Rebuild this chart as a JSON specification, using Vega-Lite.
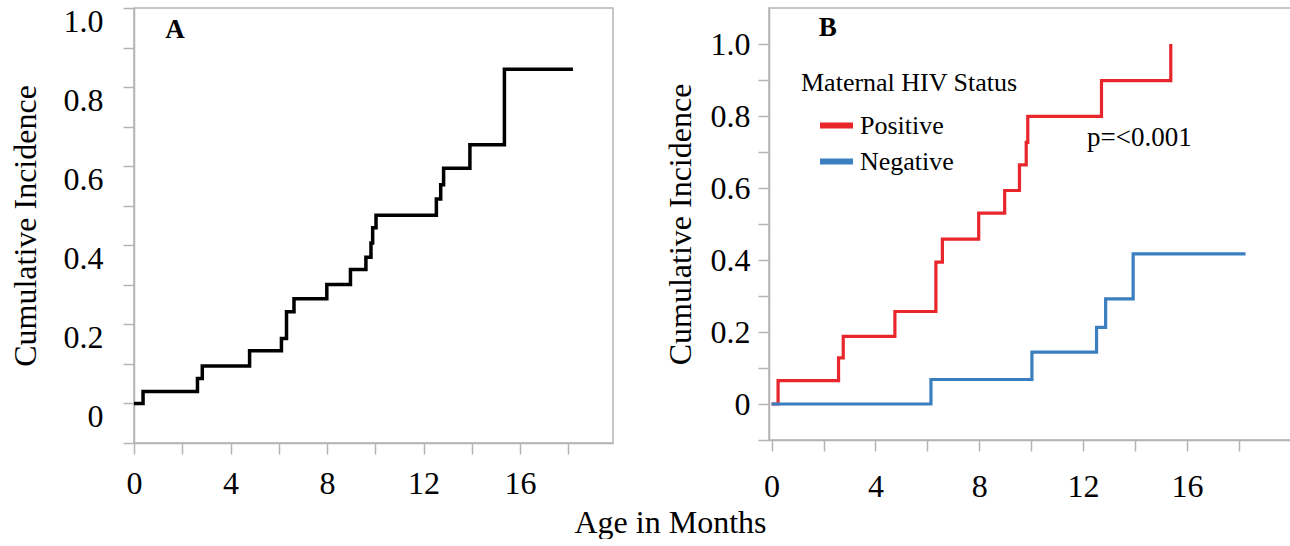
{
  "$schema": "https://vega.github.io/schema/vega-lite/v6.json",
  "padding": {"left": 8, "top": 4, "right": 0, "bottom": 0},
  "background": "white",
  "spacing": 49,
  "title": {"text": "Age in Months", "orient": "bottom", "anchor": "middle", "font": "Liberation Serif", "fontSize": 32, "fontWeight": "normal", "color": "black", "offset": 5, "dx": 20},
  "config": {
    "view": {"stroke": "#b4b4b4", "strokeWidth": 1.5},
    "axis": {"grid": false, "labelOverlap": false, "labelFlush": false, "domainColor": "#b4b4b4", "domainWidth": 1.5, "tickColor": "#b4b4b4", "tickWidth": 1.5, "tickSize": 11, "labelFont": "Liberation Serif", "labelFontSize": 32, "labelColor": "black", "titleFont": "Liberation Serif", "titleFontSize": 32, "titleFontWeight": "normal", "titleColor": "black"},
    "legend": {"titleFont": "Liberation Serif", "labelFont": "Liberation Serif"}
  },
  "datasets": {
    "a": [
      {"month": 0, "ci": 0}, {"month": 0.375, "ci": 0.030}, {"month": 2.63, "ci": 0.063}, {"month": 2.83, "ci": 0.095},
      {"month": 4.79, "ci": 0.133}, {"month": 6.11, "ci": 0.164}, {"month": 6.32, "ci": 0.232}, {"month": 6.63, "ci": 0.265},
      {"month": 7.99, "ci": 0.301}, {"month": 8.97, "ci": 0.339}, {"month": 9.61, "ci": 0.370}, {"month": 9.82, "ci": 0.406},
      {"month": 9.89, "ci": 0.444}, {"month": 10.03, "ci": 0.476}, {"month": 12.53, "ci": 0.517}, {"month": 12.71, "ci": 0.553},
      {"month": 12.83, "ci": 0.595}, {"month": 13.92, "ci": 0.654}, {"month": 15.35, "ci": 0.845}, {"month": 18.19, "ci": 0.845}
    ],
    "b": [
      {"status": "Positive", "month": 0, "ci": 0}, {"status": "Positive", "month": 0.25, "ci": 0.065}, {"status": "Positive", "month": 2.58, "ci": 0.128},
      {"status": "Positive", "month": 2.76, "ci": 0.188}, {"status": "Positive", "month": 4.75, "ci": 0.257}, {"status": "Positive", "month": 6.33, "ci": 0.394},
      {"status": "Positive", "month": 6.58, "ci": 0.458}, {"status": "Positive", "month": 7.98, "ci": 0.530}, {"status": "Positive", "month": 8.98, "ci": 0.593},
      {"status": "Positive", "month": 9.55, "ci": 0.664}, {"status": "Positive", "month": 9.81, "ci": 0.727}, {"status": "Positive", "month": 9.87, "ci": 0.799},
      {"status": "Positive", "month": 12.71, "ci": 0.898}, {"status": "Positive", "month": 15.38, "ci": 1.0},
      {"status": "Negative", "month": 0, "ci": 0}, {"status": "Negative", "month": 6.14, "ci": 0.068}, {"status": "Negative", "month": 10.03, "ci": 0.144},
      {"status": "Negative", "month": 12.52, "ci": 0.213}, {"status": "Negative", "month": 12.87, "ci": 0.292}, {"status": "Negative", "month": 13.93, "ci": 0.417},
      {"status": "Negative", "month": 18.26, "ci": 0.417}
    ]
  },
  "hconcat": [
    {
      "width": 479, "height": 435,
      "layer": [
        {
          "data": {"name": "a"},
          "mark": {"type": "line", "interpolate": "step-after", "color": "black", "strokeWidth": 3.5},
          "encoding": {
            "x": {"field": "month", "type": "quantitative", "scale": {"domain": [0, 19.85], "nice": false, "zero": false},
              "axis": {"title": null, "values": [0, 2, 4, 6, 8, 10, 12, 14, 16, 18], "labelExpr": "datum.value % 4 == 0 ? datum.label : ''", "labelPadding": 14, "labelFont": "Liberation Serif"}},
            "y": {"field": "ci", "type": "quantitative", "scale": {"domain": [-0.1, 1.0], "nice": false, "zero": false},
              "axis": {"title": "Cumulative Incidence", "values": [-0.1, 0, 0.1, 0.2, 0.3, 0.4, 0.5, 0.6, 0.7, 0.8, 0.9, 1.0],
                "labelExpr": "(datum.value * 10) % 2 < 0.5 && datum.value > -0.05 ? (datum.value == 0 ? '0' : format(datum.value, '.1f')) : ''",
                "labelPadding": 20, "labelOffset": 13, "titlePadding": 21, "labelFont": "Liberation Serif"}}
          }
        },
        {
          "data": {"values": [{"month": 1.7, "ci": 0.945, "label": "A"}]},
          "mark": {"type": "text", "font": "Liberation Serif", "fontSize": 27, "fontWeight": "bold", "color": "black", "baseline": "middle", "align": "center"},
          "encoding": {
            "x": {"field": "month", "type": "quantitative", "scale": {"domain": [0, 19.85], "nice": false, "zero": false},
              "axis": {"title": null, "values": [0, 2, 4, 6, 8, 10, 12, 14, 16, 18], "labelExpr": "datum.value % 4 == 0 ? datum.label : ''", "labelPadding": 14, "labelFont": "Liberation Serif"}},
            "y": {"field": "ci", "type": "quantitative", "scale": {"domain": [-0.1, 1.0], "nice": false, "zero": false},
              "axis": {"title": "Cumulative Incidence", "values": [-0.1, 0, 0.1, 0.2, 0.3, 0.4, 0.5, 0.6, 0.7, 0.8, 0.9, 1.0],
                "labelExpr": "(datum.value * 10) % 2 < 0.5 && datum.value > -0.05 ? (datum.value == 0 ? '0' : format(datum.value, '.1f')) : ''",
                "labelPadding": 20, "labelOffset": 13, "titlePadding": 21, "labelFont": "Liberation Serif"}},
            "text": {"field": "label"}
          }
        }
      ]
    },
    {
      "width": 523, "height": 432,
      "layer": [
        {
          "data": {"name": "b"},
          "mark": {"type": "line", "interpolate": "step-after", "strokeWidth": 3.2},
          "encoding": {
            "x": {"field": "month", "type": "quantitative", "scale": {"domain": [-0.1, 20.05], "nice": false, "zero": false},
              "axis": {"title": null, "values": [0, 2, 4, 6, 8, 10, 12, 14, 16, 18], "labelExpr": "datum.value % 4 == 0 ? datum.label : ''", "labelPadding": 20, "labelFont": "Liberation Serif"}},
            "y": {"field": "ci", "type": "quantitative", "scale": {"domain": [-0.1, 1.1], "nice": false, "zero": false},
              "axis": {"title": "Cumulative Incidence", "values": [-0.1, 0, 0.1, 0.2, 0.3, 0.4, 0.5, 0.6, 0.7, 0.8, 0.9, 1.0],
                "labelExpr": "(datum.value * 10) % 2 < 0.5 && datum.value > -0.05 ? (datum.value == 0 ? '0' : format(datum.value, '.1f')) : ''",
                "labelPadding": 8, "titlePadding": 13, "labelFont": "Liberation Serif"}},
            "color": {"field": "status", "type": "nominal", "sort": ["Positive", "Negative"],
              "scale": {"domain": ["Positive", "Negative"], "range": ["#e8262b", "#3b7fc0"]},
              "legend": {"title": "Maternal HIV Status", "orient": "none", "legendX": 667, "legendY": 62, "padding": 0,
                "titleFontSize": 26, "titleFontWeight": "normal", "titleColor": "black", "titlePadding": 10, "titleLimit": 500,
                "labelFontSize": 26, "labelColor": "black", "labelOffset": 4,
                "symbolType": "stroke", "symbolSize": 1089, "symbolStrokeWidth": 6, "symbolOffset": 16, "rowPadding": 3}}
          }
        },
        {
          "data": {"values": [{"month": 2.16, "ci": 1.045, "label": "B"}]},
          "mark": {"type": "text", "font": "Liberation Serif", "fontSize": 27, "fontWeight": "bold", "color": "black", "baseline": "middle", "align": "center"},
          "encoding": {
            "x": {"field": "month", "type": "quantitative", "scale": {"domain": [-0.1, 20.05], "nice": false, "zero": false},
              "axis": {"title": null, "values": [0, 2, 4, 6, 8, 10, 12, 14, 16, 18], "labelExpr": "datum.value % 4 == 0 ? datum.label : ''", "labelPadding": 20, "labelFont": "Liberation Serif"}},
            "y": {"field": "ci", "type": "quantitative", "scale": {"domain": [-0.1, 1.1], "nice": false, "zero": false},
              "axis": {"title": "Cumulative Incidence", "values": [-0.1, 0, 0.1, 0.2, 0.3, 0.4, 0.5, 0.6, 0.7, 0.8, 0.9, 1.0],
                "labelExpr": "(datum.value * 10) % 2 < 0.5 && datum.value > -0.05 ? (datum.value == 0 ? '0' : format(datum.value, '.1f')) : ''",
                "labelPadding": 8, "titlePadding": 13, "labelFont": "Liberation Serif"}},
            "text": {"field": "label"}
          }
        },
        {
          "data": {"values": [{"month": 14.17, "ci": 0.74, "label": "p=<0.001"}]},
          "mark": {"type": "text", "font": "Liberation Serif", "fontSize": 27, "fontWeight": "normal", "color": "black", "baseline": "middle", "align": "center"},
          "encoding": {
            "x": {"field": "month", "type": "quantitative", "scale": {"domain": [-0.1, 20.05], "nice": false, "zero": false},
              "axis": {"title": null, "values": [0, 2, 4, 6, 8, 10, 12, 14, 16, 18], "labelExpr": "datum.value % 4 == 0 ? datum.label : ''", "labelPadding": 20, "labelFont": "Liberation Serif"}},
            "y": {"field": "ci", "type": "quantitative", "scale": {"domain": [-0.1, 1.1], "nice": false, "zero": false},
              "axis": {"title": "Cumulative Incidence", "values": [-0.1, 0, 0.1, 0.2, 0.3, 0.4, 0.5, 0.6, 0.7, 0.8, 0.9, 1.0],
                "labelExpr": "(datum.value * 10) % 2 < 0.5 && datum.value > -0.05 ? (datum.value == 0 ? '0' : format(datum.value, '.1f')) : ''",
                "labelPadding": 8, "titlePadding": 13, "labelFont": "Liberation Serif"}},
            "text": {"field": "label"}
          }
        }
      ]
    }
  ]
}
